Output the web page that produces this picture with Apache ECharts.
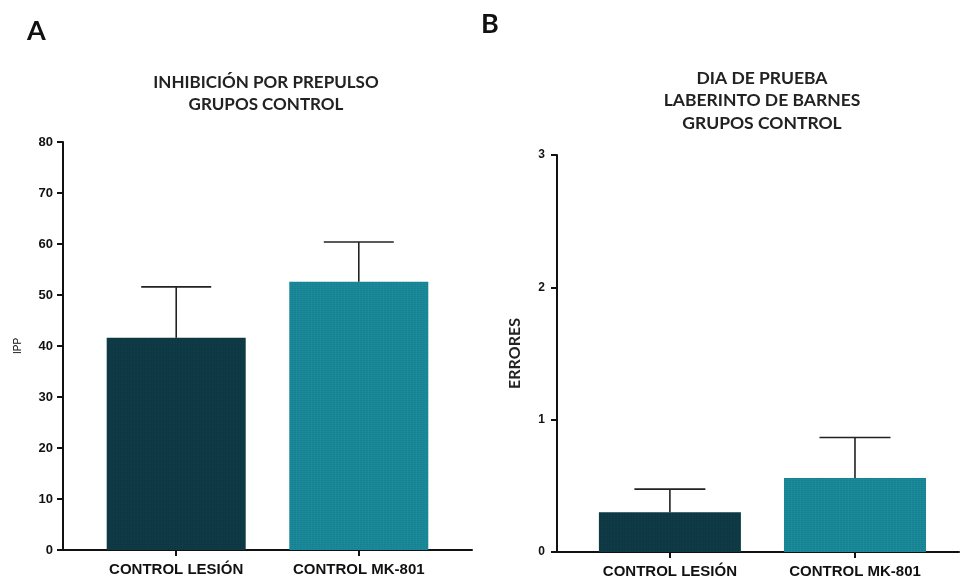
<!DOCTYPE html>
<html>
<head>
<meta charset="utf-8">
<script src="https://cdn.jsdelivr.net/npm/echarts@6/dist/echarts.min.js"></script>
<style>html,body{margin:0;padding:0;background:#fff}#c{width:960px;height:583px}</style>
</head>
<body>
<div id="c"></div>
<script>
// Data
const categories = ['CONTROL LESIÓN', 'CONTROL MK-801'];
const ippMean = [41.6, 52.6];
const ippErr = [10.0, 7.8];
const erroresMean = [0.30, 0.56];
const erroresErr = [0.175, 0.305];
const barColors = ['#0f3b47', '#1a8a9a'];
const ippTicks = [0, 10, 20, 30, 40, 50, 60, 70, 80];
const erroresTicks = [0, 1, 2, 3];

const chart = echarts.init(document.getElementById('c'));
const tickFont = {fontFamily: 'Liberation Sans', fontWeight: 'bold', fontSize: 13, color: '#111'};
const xLine = {show: true, onZero: false, lineStyle: {color: '#111', width: 2}};
const yLine = {show: true, onZero: false, lineStyle: {color: '#111', width: 2}};
const axisTick = {show: true, inside: false, length: 6, lineStyle: {color: '#111', width: 2}};
const decal = {symbol: 'rect', symbolSize: 0.7, dashArrayX: [2, 1], dashArrayY: [1, 1], color: 'rgba(0,0,0,0.22)'};

function barData(vals) {
  return vals.map((v, i) => ({value: [i, v], itemStyle: {color: barColors[i], decal: decal}}));
}
function errData(means, errs) {
  return means.map((m, i) => [i, m, m + errs[i]]);
}
function errRender(capW) {
  return function (params, api) {
    const x = api.value(0);
    const p0 = api.coord([x, api.value(1)]);
    const p1 = api.coord([x, api.value(2)]);
    const st = {stroke: '#222', lineWidth: 1.6};
    return {type: 'group', children: [
      {type: 'line', shape: {x1: p0[0], y1: p0[1], x2: p1[0], y2: p1[1]}, style: st},
      {type: 'line', shape: {x1: p1[0] - capW / 2, y1: p1[1], x2: p1[0] + capW / 2, y2: p1[1]}, style: st}
    ]};
  };
}
const xLabel = Object.assign({}, tickFont, {fontSize: 15, margin: 12, customValues: [0, 1], formatter: v => categories[Math.round(v)]});

const option = {
  animation: false,
  aria: {enabled: false},
  title: [
    {text: 'INHIBICIÓN POR PREPULSO\nGRUPOS CONTROL', left: 261, top: 67, textAlign: 'center',
     textStyle: {fontFamily: 'Lato', fontWeight: 'bold', fontSize: 17, lineHeight: 22, color: '#222'}},
    {text: 'DIA DE PRUEBA\nLABERINTO DE BARNES\nGRUPOS CONTROL', left: 757, top: 62, textAlign: 'center',
     textStyle: {fontFamily: 'Lato', fontWeight: 'bold', fontSize: 17.5, lineHeight: 22.5, color: '#222'}}
  ],
  graphic: [
    {type: 'text', left: 27, top: 18, style: {text: 'A', font: 'bold 27px Lato', fill: '#111'}},
    {type: 'text', left: 481, top: 11, style: {text: 'B', font: 'bold 27px Lato', fill: '#111'}}
  ],
  grid: [
    {left: 63, top: 142, width: 409, height: 408},
    {left: 557, top: 155, width: 402, height: 397}
  ],
  xAxis: [
    {gridIndex: 0, type: 'value', min: -0.62, max: 1.62, splitLine: {show: false},
     axisLine: xLine, axisTick: Object.assign({}, axisTick, {customValues: [0, 1]}), axisLabel: xLabel},
    {gridIndex: 1, type: 'value', min: -0.61, max: 1.562, splitLine: {show: false},
     axisLine: xLine, axisTick: Object.assign({}, axisTick, {customValues: [0, 1]}), axisLabel: xLabel}
  ],
  yAxis: [
    {gridIndex: 0, type: 'value', min: ippTicks[0], max: ippTicks[ippTicks.length - 1], interval: 10,
     splitLine: {show: false}, axisLine: yLine, axisTick: axisTick,
     axisLabel: Object.assign({}, tickFont, {margin: 10}),
     name: 'IPP', nameLocation: 'middle', nameGap: 40, nameRotate: 90,
     nameTextStyle: {fontFamily: 'Liberation Sans', fontSize: 10, color: '#111'}},
    {gridIndex: 1, type: 'value', min: erroresTicks[0], max: erroresTicks[erroresTicks.length - 1], interval: 1,
     splitLine: {show: false}, axisLine: yLine, axisTick: axisTick,
     axisLabel: Object.assign({}, tickFont, {fontSize: 12, margin: 12}),
     name: 'ERRORES', nameLocation: 'middle', nameGap: 34, nameRotate: 90,
     nameTextStyle: {fontFamily: 'Lato', fontWeight: 'bold', fontSize: 16, color: '#222'}}
  ],
  series: [
    {type: 'bar', xAxisIndex: 0, yAxisIndex: 0, barWidth: 139, data: barData(ippMean), z: 2},
    {type: 'custom', xAxisIndex: 0, yAxisIndex: 0, data: errData(ippMean, ippErr), renderItem: errRender(70), z: 3},
    {type: 'bar', xAxisIndex: 1, yAxisIndex: 1, barWidth: 142, data: barData(erroresMean), z: 2},
    {type: 'custom', xAxisIndex: 1, yAxisIndex: 1, data: errData(erroresMean, erroresErr), renderItem: errRender(71), z: 3}
  ]
};
chart.setOption(option);
</script>
</body>
</html>
